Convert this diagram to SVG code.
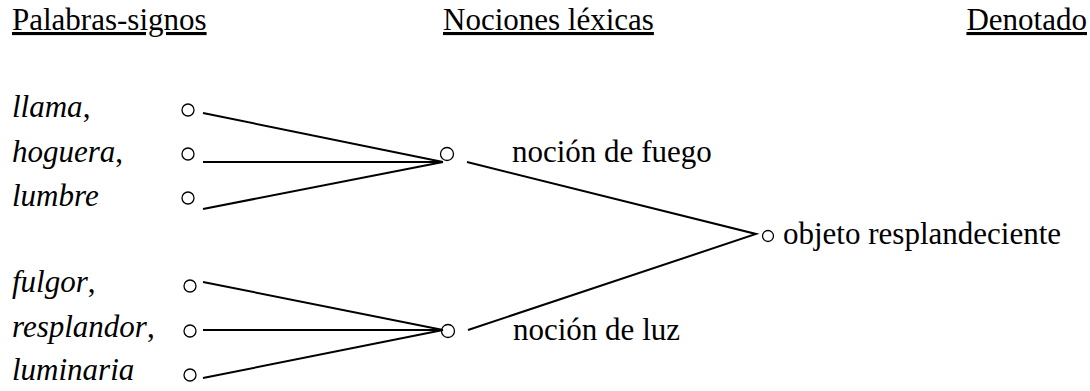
<svg xmlns="http://www.w3.org/2000/svg" width="1090" height="391" viewBox="0 0 1090 391">
<style>
.t{font-family:"Liberation Serif","Times New Roman",Times,serif;font-size:31px;fill:#000}
.h{text-decoration:underline}
.w{font-style:italic}
.c{fill:#fff;stroke:#000;stroke-width:1.3}
.l{stroke:#000;stroke-width:2;fill:none}
</style>
<rect width="1090" height="391" fill="#fff"/>
<g id="headers">
<text class="t h" x="12" y="30">Palabras-signos</text>
<text class="t h" x="443" y="30">Nociones léxicas</text>
<text class="t h" x="1087" y="30" text-anchor="end">Denotado</text>
</g>
<g id="w-llama"><text class="t w" x="12" y="117">llama<tspan font-style="normal">,</tspan></text><circle class="c" cx="188" cy="110" r="6"/></g>
<g id="w-hoguera"><text class="t w" x="12" y="162">hoguera<tspan font-style="normal">,</tspan></text><circle class="c" cx="188" cy="154" r="6"/></g>
<g id="w-lumbre"><text class="t w" x="12" y="206">lumbre</text><circle class="c" cx="188" cy="198" r="6"/></g>
<g id="w-fulgor"><text class="t w" x="12" y="292">fulgor<tspan font-style="normal">,</tspan></text><circle class="c" cx="190" cy="286" r="6"/></g>
<g id="w-resplandor"><text class="t w" x="12" y="337">resplandor<tspan font-style="normal">,</tspan></text><circle class="c" cx="190" cy="331" r="6"/></g>
<g id="w-luminaria"><text class="t w" x="12" y="380">luminaria</text><circle class="c" cx="190" cy="375" r="6"/></g>
<g id="n-fuego"><circle class="c" cx="447" cy="154" r="6.5"/><text class="t" x="512" y="162">noción de fuego</text></g>
<g id="n-luz"><circle class="c" cx="448" cy="331" r="6.5"/><text class="t" x="513" y="340">noción de luz</text></g>
<g id="d-objeto"><circle class="c" cx="768" cy="236" r="5.5"/><text class="t" x="783" y="244">objeto resplandeciente</text></g>
<g id="connectors">
<line class="l" x1="203" y1="113" x2="443" y2="162"/>
<line class="l" x1="203" y1="162" x2="443" y2="162"/>
<line class="l" x1="203" y1="209" x2="443" y2="162"/>
<line class="l" x1="203" y1="282" x2="443" y2="330"/>
<line class="l" x1="203" y1="330" x2="443" y2="330"/>
<line class="l" x1="203" y1="378" x2="443" y2="330"/>
<polyline class="l" points="467,162 756,234 468,330"/>
</g>
</svg>
